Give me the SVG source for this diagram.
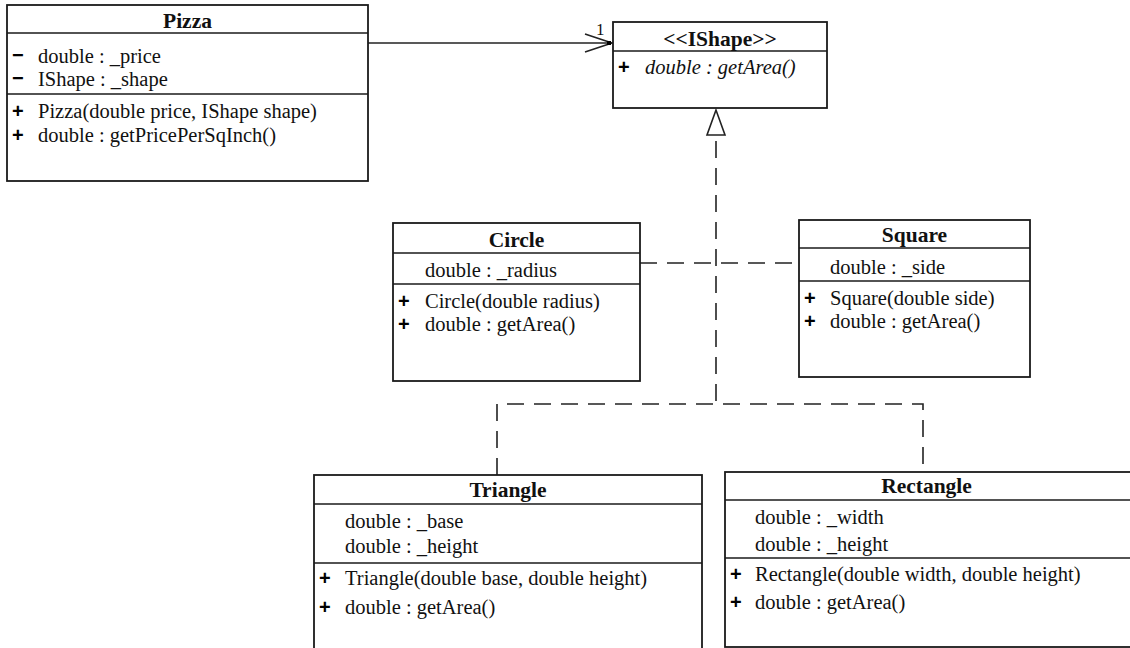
<svg xmlns="http://www.w3.org/2000/svg" width="1130" height="648" viewBox="0 0 1130 648">
<style>
.box{fill:#fff;stroke:#1a1a1a;stroke-width:1.8}
.div{stroke:#1a1a1a;stroke-width:1.6}
.t{font-family:"Liberation Serif","Times New Roman",serif;font-size:21.5px;font-weight:bold;fill:#111;text-anchor:middle}
.m{font-family:"Liberation Serif","Times New Roman",serif;font-size:20.5px;fill:#111}
.i{font-style:italic}
.v{font-family:"Liberation Sans",Arial,sans-serif;font-size:20px;font-weight:bold;fill:#000}
.dash{fill:none;stroke:#222;stroke-width:1.6;stroke-dasharray:17 10}
.solid{fill:none;stroke:#222;stroke-width:1.6}
</style>
<rect width="1130" height="648" fill="#fff"/>
<g id="connectors">
  <line class="solid" x1="368" y1="43" x2="612" y2="43"/>
  <polyline class="solid" points="585,34 612,43 585,52"/>
  <rect x="607" y="41" width="4" height="4" fill="#000"/>
  <text class="m" x="596" y="35" style="font-size:17px">1</text>
  <polygon points="716,110 707,135 725,135" fill="#fff" stroke="#222" stroke-width="1.6"/>
  <line class="dash" x1="716" y1="141" x2="716" y2="404"/>
  <line class="dash" x1="640" y1="263" x2="799" y2="263"/>
  <polyline class="dash" points="497,475 497,404 923,404 923,471"/>
</g>
<g id="pizza">
  <rect class="box" x="7" y="5" width="361" height="176"/>
  <line class="div" x1="7" y1="33" x2="368" y2="33"/>
  <line class="div" x1="7" y1="94" x2="368" y2="94"/>
  <text class="t" x="187.5" y="28">Pizza</text>
  <text class="v" x="12" y="62">−</text>
  <text class="m" x="38" y="63">double : _price</text>
  <text class="v" x="12" y="85">−</text>
  <text class="m" x="38" y="86">IShape : _shape</text>
  <text class="v" x="12" y="118">+</text>
  <text class="m" x="38" y="118">Pizza(double price, IShape shape)</text>
  <text class="v" x="12" y="142">+</text>
  <text class="m" x="38" y="142">double : getPricePerSqInch()</text>
</g>
<g id="ishape">
  <rect class="box" x="613" y="22" width="214" height="86"/>
  <line class="div" x1="613" y1="51" x2="827" y2="51"/>
  <text class="t" x="720" y="46">&lt;&lt;IShape&gt;&gt;</text>
  <text class="v" x="618" y="74">+</text>
  <text class="m i" x="645" y="74">double : getArea()</text>
</g>
<g id="circle">
  <rect class="box" x="393" y="223" width="247" height="158"/>
  <line class="div" x1="393" y1="253" x2="640" y2="253"/>
  <line class="div" x1="393" y1="284" x2="640" y2="284"/>
  <text class="t" x="516.5" y="247">Circle</text>
  <text class="m" x="425" y="277">double : _radius</text>
  <text class="v" x="398" y="308">+</text>
  <text class="m" x="425" y="308">Circle(double radius)</text>
  <text class="v" x="398" y="331">+</text>
  <text class="m" x="425" y="331">double : getArea()</text>
</g>
<g id="square">
  <rect class="box" x="799" y="220" width="231" height="157"/>
  <line class="div" x1="799" y1="248" x2="1030" y2="248"/>
  <line class="div" x1="799" y1="281" x2="1030" y2="281"/>
  <text class="t" x="914.5" y="242">Square</text>
  <text class="m" x="830" y="274">double : _side</text>
  <text class="v" x="804" y="305">+</text>
  <text class="m" x="830" y="305">Square(double side)</text>
  <text class="v" x="804" y="328">+</text>
  <text class="m" x="830" y="328">double : getArea()</text>
</g>
<g id="triangle">
  <rect class="box" x="314" y="475" width="388" height="200"/>
  <line class="div" x1="314" y1="504" x2="702" y2="504"/>
  <line class="div" x1="314" y1="563" x2="702" y2="563"/>
  <text class="t" x="508" y="497">Triangle</text>
  <text class="m" x="345" y="528">double : _base</text>
  <text class="m" x="345" y="553">double : _height</text>
  <text class="v" x="319" y="585">+</text>
  <text class="m" x="345" y="585">Triangle(double base, double height)</text>
  <text class="v" x="319" y="614">+</text>
  <text class="m" x="345" y="614">double : getArea()</text>
</g>
<g id="rectangle">
  <rect class="box" x="725" y="472" width="410" height="175"/>
  <line class="div" x1="725" y1="500" x2="1135" y2="500"/>
  <line class="div" x1="725" y1="558" x2="1135" y2="558"/>
  <text class="t" x="926.5" y="493">Rectangle</text>
  <text class="m" x="755" y="524">double : _width</text>
  <text class="m" x="755" y="551">double : _height</text>
  <text class="v" x="730" y="581">+</text>
  <text class="m" x="755" y="581">Rectangle(double width, double height)</text>
  <text class="v" x="730" y="609">+</text>
  <text class="m" x="755" y="609">double : getArea()</text>
</g>
</svg>
